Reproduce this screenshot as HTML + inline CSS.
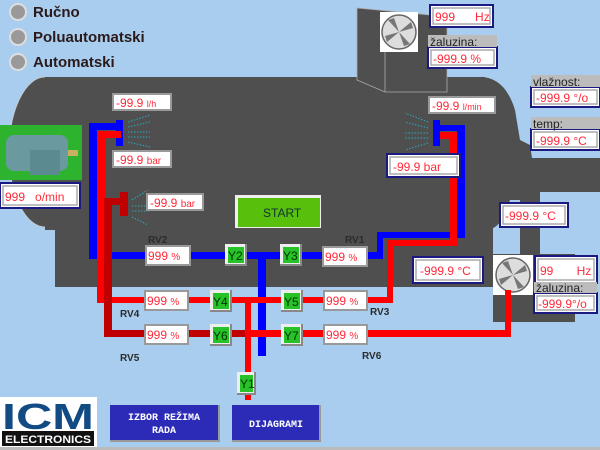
<!DOCTYPE html>
<html><head><meta charset="utf-8"><style>
html,body{margin:0;padding:0;width:600px;height:450px;overflow:hidden;background:#a9cdef;}
svg{display:block;}
text{white-space:pre;}
.v{font-family:"Liberation Sans",sans-serif;fill:#ff2a3a;font-size:12px;}
.l{font-family:"Liberation Sans",sans-serif;font-weight:bold;fill:#2b2b2b;font-size:10px;}
.y{font-family:"Liberation Sans",sans-serif;fill:#003300;font-size:12px;}
.g{font-family:"Liberation Sans",sans-serif;fill:#222;font-size:12px;}
</style></head><body>
<svg width="600" height="450" viewBox="0 0 600 450" xmlns="http://www.w3.org/2000/svg" xml:space="preserve">
<rect width="600" height="450" fill="#a9cdef"/>
<g font-family="Liberation Sans,sans-serif" font-weight="bold" font-size="15" fill="#2a1a1a">
<circle cx="18" cy="12" r="8" fill="#999" stroke="#ddd" stroke-width="2"/><text x="33" y="17">Ručno</text>
<circle cx="18" cy="37" r="8" fill="#999" stroke="#ddd" stroke-width="2"/><text x="33" y="42">Poluautomatski</text>
<circle cx="18" cy="62" r="8" fill="#999" stroke="#ddd" stroke-width="2"/><text x="33" y="67">Automatski</text>
</g>
<g fill="#4f4f4f">
<ellipse cx="45" cy="152" rx="36" ry="75" stroke="#ccc" stroke-width="0.8"/>
<rect x="45" y="77" width="440" height="153"/>
<rect x="55" y="225" width="438" height="62"/>
<path d="M480 77 Q505 77 515 110 L520 140 L530 145 L532 158 L600 158 L600 192 L540 192 L540 255 L520 255 L520 200 L510 200 L505 215 Q497 230 485 230 Z"/>
<rect x="493" y="254" width="82" height="68"/>
<path d="M357 8 L430 15 L447 15 L447 92 L385 92 L357 80 Z" stroke="#aaa" stroke-width="0.8"/>
<path d="M385 12 L385 92" stroke="#aaa" stroke-width="0.8"/>
</g>
<g>
<rect x="380" y="12" width="38" height="40" fill="#fff"/>
<circle cx="399" cy="32" r="17" fill="#ddd" stroke="#666" stroke-width="1.5"/>
<path d="M399 32 L388 20 L394 18Z M399 32 L411 22 L413 28Z M399 32 L410 44 L404 46Z M399 32 L387 42 L385 36Z" fill="#777"/>
<rect x="493" y="255" width="40" height="40" fill="#fff"/>
<circle cx="513" cy="275" r="17" fill="#ddd" stroke="#666" stroke-width="1.5"/>
<path d="M513 275 L502 263 L508 261Z M513 275 L525 265 L527 271Z M513 275 L524 287 L518 289Z M513 275 L501 285 L499 279Z" fill="#777"/>
</g>
<rect x="0" y="125" width="82" height="55" fill="#2db32d"/>
<rect x="6" y="135" width="62" height="36" rx="8" fill="#6a9aa0"/>
<rect x="30" y="150" width="30" height="25" fill="#5b8a90"/>
<rect x="68" y="150" width="10" height="6" fill="#c8b060"/>
<g stroke="#2aa8b8" stroke-width="1" stroke-dasharray="1.5,1.5">
<path d="M128 122 L150 115 M128 127 L150 122 M128 132 L150 132 M128 137 L150 137 M128 142 L150 147"/>
<path d="M132 200 L148 190 M132 206 L150 206 M132 211 L150 211 M132 217 L148 225"/>
<path d="M428 122 L405 113 M428 128 L405 122 M428 133 L405 133 M428 138 L405 138 M428 143 L405 150"/>
</g>
<g fill="#0000ff">
<rect x="89" y="123" width="8" height="136"/><rect x="89" y="123" width="32" height="7"/><rect x="116" y="120" width="7" height="26"/>
<rect x="89" y="252" width="294" height="7"/><rect x="377" y="232" width="6" height="27"/><rect x="377" y="232" width="88" height="6"/>
<rect x="457" y="125" width="8" height="113"/><rect x="435" y="125" width="30" height="6"/><rect x="433" y="120" width="7" height="26"/>
<rect x="258" y="252" width="8" height="104"/>
</g>
<g fill="#ff0000">
<rect x="97" y="131" width="8" height="172"/><rect x="97" y="131" width="24" height="7"/>
<rect x="97" y="297" width="296" height="6"/><rect x="387" y="240" width="6" height="63"/><rect x="387" y="240" width="70" height="6"/>
<rect x="450" y="132" width="7" height="114"/><rect x="440" y="132" width="17" height="7"/>
<rect x="245" y="297" width="6" height="103"/>
<rect x="245" y="330" width="266" height="7"/><rect x="505" y="290" width="6" height="47"/>
</g>
<g fill="#c00000">
<rect x="104" y="198" width="8" height="139"/><rect x="104" y="198" width="20" height="7"/><rect x="120" y="192" width="8" height="24"/>
<rect x="104" y="330" width="141" height="7"/>
</g>
<g fill="#fff" stroke="#999" stroke-width="2">
<rect x="113" y="94" width="58" height="16"/>
<rect x="113" y="151" width="58" height="16"/>
<rect x="147" y="194" width="56" height="16"/>
<rect x="429" y="97" width="66" height="16"/>
<rect x="146" y="246" width="44" height="19"/><rect x="323" y="247" width="44" height="19"/>
<rect x="145" y="291" width="43" height="19"/><rect x="324" y="291" width="43" height="19"/>
<rect x="145" y="325" width="43" height="19"/><rect x="324" y="325" width="43" height="19"/>
</g>
<g class="v">
<text x="116" y="107">-99.9 <tspan font-size="9">l/h</tspan></text>
<text x="116" y="164">-99.9 <tspan font-size="10">bar</tspan></text>
<text x="150" y="207">-99.9 <tspan font-size="10">bar</tspan></text>
<text x="432" y="110">-99.9 <tspan font-size="9">l/min</tspan></text>
<text x="148" y="260">999 <tspan font-size="10">%</tspan></text><text x="325" y="261">999 <tspan font-size="10">%</tspan></text>
<text x="147" y="305">999 <tspan font-size="10">%</tspan></text><text x="326" y="305">999 <tspan font-size="10">%</tspan></text>
<text x="147" y="339">999 <tspan font-size="10">%</tspan></text><text x="326" y="339">999 <tspan font-size="10">%</tspan></text>
</g>
<g fill="#fff" stroke="#1a1a80" stroke-width="2">
<rect x="0" y="183" width="80" height="25"/>
<rect x="430" y="5" width="63" height="22"/>
<rect x="428" y="47" width="69" height="21"/>
<rect x="531" y="87" width="69" height="20"/>
<rect x="531" y="129" width="69" height="21"/>
<rect x="387" y="154" width="73" height="23"/>
<rect x="500" y="203" width="68" height="24"/>
<rect x="413" y="257" width="70" height="26"/>
<rect x="535" y="256" width="62" height="27"/>
<rect x="534" y="293" width="63" height="20"/>
</g>
<g fill="none" stroke="#aaa" stroke-width="1.5">
<rect x="3" y="186" width="74" height="19"/><rect x="433" y="8" width="57" height="16"/><rect x="431" y="50" width="63" height="15"/>
<rect x="534" y="90" width="63" height="14"/><rect x="534" y="132" width="63" height="15"/><rect x="390" y="157" width="67" height="17"/>
<rect x="503" y="206" width="62" height="18"/><rect x="416" y="260" width="64" height="20"/><rect x="538" y="259" width="56" height="21"/><rect x="537" y="296" width="57" height="14"/>
</g>
<g fill="#bcbcbc">
<rect x="428" y="35" width="69" height="12"/><rect x="531" y="75" width="69" height="12"/><rect x="531" y="117" width="69" height="12"/><rect x="534" y="282" width="63" height="11"/>
</g>
<g class="g">
<text x="430" y="46">žaluzina:</text><text x="533" y="86">vlažnost:</text><text x="533" y="128">temp:</text><text x="536" y="292">žaluzina:</text>
</g>
<g class="v" font-size="13">
<text x="5" y="201">999   o/min</text>
<text x="435" y="21">999      Hz</text>
<text x="433" y="63">-999.9 %</text>
<text x="536" y="102">-999.9 °/o</text>
<text x="536" y="145">-999.9 °C</text>
<text x="393" y="171">-99.9 bar</text>
<text x="505" y="220">-999.9 °C</text>
<text x="420" y="275">-999.9 °C</text>
<text x="540" y="275">99       Hz</text>
<text x="538" y="308">-999.9°/o</text>
</g>
<rect x="235" y="195" width="86" height="33" fill="#eee"/>
<rect x="238" y="198" width="82" height="29" fill="#58bf0c"/>
<text x="263" y="217" font-family="Liberation Sans,sans-serif" font-size="12" fill="#133">START</text>
<g>
<g transform="translate(225,244)"><rect width="22" height="22" fill="#888"/><rect width="20" height="20" fill="#eee"/><rect x="3" y="3" width="16" height="16" fill="#27c227"/></g>
<g transform="translate(280,244)"><rect width="22" height="22" fill="#888"/><rect width="20" height="20" fill="#eee"/><rect x="3" y="3" width="16" height="16" fill="#27c227"/></g>
<g transform="translate(210,290)"><rect width="22" height="22" fill="#888"/><rect width="20" height="20" fill="#eee"/><rect x="3" y="3" width="16" height="16" fill="#27c227"/></g>
<g transform="translate(281,290)"><rect width="22" height="22" fill="#888"/><rect width="20" height="20" fill="#eee"/><rect x="3" y="3" width="16" height="16" fill="#27c227"/></g>
<g transform="translate(210,324)"><rect width="22" height="22" fill="#888"/><rect width="20" height="20" fill="#eee"/><rect x="3" y="3" width="16" height="16" fill="#27c227"/></g>
<g transform="translate(281,324)"><rect width="22" height="22" fill="#888"/><rect width="20" height="20" fill="#eee"/><rect x="3" y="3" width="16" height="16" fill="#27c227"/></g>
<g transform="translate(237,372)"><rect width="19" height="23" fill="#888"/><rect width="17" height="21" fill="#eee"/><rect x="3" y="3" width="13" height="17" fill="#27c227"/></g>
</g>
<g class="y">
<text x="228" y="260">Y2</text><text x="283" y="260">Y3</text><text x="213" y="306">Y4</text><text x="284" y="306">Y5</text>
<text x="213" y="340">Y6</text><text x="284" y="340">Y7</text><text x="240" y="388">Y1</text>
</g>
<g class="l">
<text x="148" y="243">RV2</text><text x="345" y="243">RV1</text><text x="120" y="317">RV4</text><text x="370" y="315">RV3</text>
<text x="120" y="361">RV5</text><text x="362" y="359">RV6</text>
</g>
<rect x="0" y="397" width="97" height="50" fill="#fff"/>
<text x="2" y="429" font-family="Liberation Sans,sans-serif" font-weight="bold" font-size="36" fill="#124a84" textLength="92" lengthAdjust="spacingAndGlyphs">ICM</text>
<rect x="2" y="431" width="92" height="15" fill="#111"/>
<text x="5" y="443" font-family="Liberation Sans,sans-serif" font-weight="bold" font-size="11" fill="#fff" textLength="86" lengthAdjust="spacingAndGlyphs">ELECTRONICS</text>
<rect x="110" y="405" width="110" height="37" fill="#999"/><rect x="110" y="405" width="108" height="35" fill="#2b2bb8"/>
<text x="164" y="420" text-anchor="middle" font-family="Liberation Mono,monospace" font-weight="bold" font-size="10" fill="#fff">IZBOR REŽIMA</text>
<text x="164" y="433" text-anchor="middle" font-family="Liberation Mono,monospace" font-weight="bold" font-size="10" fill="#fff">RADA</text>
<rect x="232" y="405" width="89" height="37" fill="#999"/><rect x="232" y="405" width="87" height="35" fill="#2b2bb8"/>
<text x="276" y="427" text-anchor="middle" font-family="Liberation Mono,monospace" font-weight="bold" font-size="10" fill="#fff">DIJAGRAMI</text>
<rect x="0" y="447" width="600" height="3" fill="#bbb"/>
</svg>
</body></html>
